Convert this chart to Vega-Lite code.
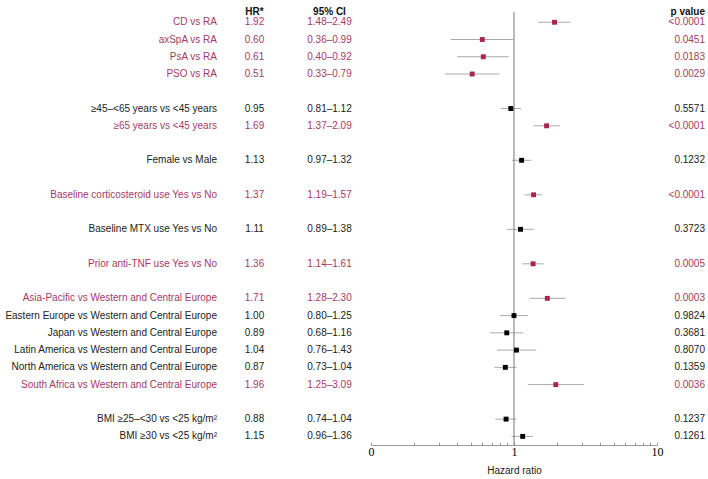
{
  "$schema": "https://vega.github.io/schema/vega-lite/v6.json",
  "padding": {"left": 5, "right": 5, "top": 5, "bottom": 0},
  "spacing": 4,
  "bounds": "flush",
  "config": {
    "view": {"stroke": null},
    "text": {"font": "Liberation Sans", "fontSize": 10},
    "concat": {"spacing": 4}
  },
  "datasets": {
    "rows": [
      {"row": 0, "label": "CD vs RA", "hr": 1.92, "lo": 1.48, "hi": 2.49, "ci": "1.48–2.49", "p": "<0.0001", "sig": "yes"},
      {"row": 1, "label": "axSpA vs RA", "hr": 0.60, "lo": 0.36, "hi": 0.99, "ci": "0.36–0.99", "p": "0.0451", "sig": "yes"},
      {"row": 2, "label": "PsA vs RA", "hr": 0.61, "lo": 0.40, "hi": 0.92, "ci": "0.40–0.92", "p": "0.0183", "sig": "yes"},
      {"row": 3, "label": "PSO vs RA", "hr": 0.51, "lo": 0.33, "hi": 0.79, "ci": "0.33–0.79", "p": "0.0029", "sig": "yes"},
      {"row": 5, "label": "≥45–<65 years vs <45 years", "hr": 0.95, "lo": 0.81, "hi": 1.12, "ci": "0.81–1.12", "p": "0.5571", "sig": "no"},
      {"row": 6, "label": "≥65 years vs <45 years", "hr": 1.69, "lo": 1.37, "hi": 2.09, "ci": "1.37–2.09", "p": "<0.0001", "sig": "yes"},
      {"row": 8, "label": "Female vs Male", "hr": 1.13, "lo": 0.97, "hi": 1.32, "ci": "0.97–1.32", "p": "0.1232", "sig": "no"},
      {"row": 10, "label": "Baseline corticosteroid use Yes vs No", "hr": 1.37, "lo": 1.19, "hi": 1.57, "ci": "1.19–1.57", "p": "<0.0001", "sig": "yes"},
      {"row": 12, "label": "Baseline MTX use Yes vs No", "hr": 1.11, "lo": 0.89, "hi": 1.38, "ci": "0.89–1.38", "p": "0.3723", "sig": "no"},
      {"row": 14, "label": "Prior anti-TNF use Yes vs No", "hr": 1.36, "lo": 1.14, "hi": 1.61, "ci": "1.14–1.61", "p": "0.0005", "sig": "yes"},
      {"row": 16, "label": "Asia-Pacific vs Western and Central Europe", "hr": 1.71, "lo": 1.28, "hi": 2.30, "ci": "1.28–2.30", "p": "0.0003", "sig": "yes"},
      {"row": 17, "label": "Eastern Europe vs Western and Central Europe", "hr": 1.00, "lo": 0.80, "hi": 1.25, "ci": "0.80–1.25", "p": "0.9824", "sig": "no"},
      {"row": 18, "label": "Japan vs Western and Central Europe", "hr": 0.89, "lo": 0.68, "hi": 1.16, "ci": "0.68–1.16", "p": "0.3681", "sig": "no"},
      {"row": 19, "label": "Latin America vs Western and Central Europe", "hr": 1.04, "lo": 0.76, "hi": 1.43, "ci": "0.76–1.43", "p": "0.8070", "sig": "no"},
      {"row": 20, "label": "North America vs Western and Central Europe", "hr": 0.87, "lo": 0.73, "hi": 1.04, "ci": "0.73–1.04", "p": "0.1359", "sig": "no"},
      {"row": 21, "label": "South Africa vs Western and Central Europe", "hr": 1.96, "lo": 1.25, "hi": 3.09, "ci": "1.25–3.09", "p": "0.0036", "sig": "yes"},
      {"row": 23, "label": "BMI ≥25–<30 vs <25 kg/m²", "hr": 0.88, "lo": 0.74, "hi": 1.04, "ci": "0.74–1.04", "p": "0.1237", "sig": "no"},
      {"row": 24, "label": "BMI ≥30 vs <25 kg/m²", "hr": 1.15, "lo": 0.96, "hi": 1.36, "ci": "0.96–1.36", "p": "0.1261", "sig": "no"}
    ]
  },
  "hconcat": [
    {
      "width": 210,
      "height": 440,
      "data": {"name": "rows"},
      "mark": {"type": "text", "align": "right", "baseline": "middle"},
      "encoding": {
        "x": {"value": "width"},
        "y": {"field": "row", "type": "quantitative", "scale": {"domain": [-1, 24.5], "reverse": true, "zero": false, "nice": false}, "axis": null},
        "text": {"field": "label"},
        "color": {"field": "sig", "type": "nominal", "scale": {"domain": ["yes", "no"], "range": ["#a53a64", "#222222"]}, "legend": null}
      }
    },
    {
      "width": 67,
      "height": 440,
      "layer": [
        {
          "data": {"name": "rows"},
          "mark": {"type": "text", "align": "center", "baseline": "middle"},
          "encoding": {
            "y": {"field": "row", "type": "quantitative", "scale": {"domain": [-1, 24.5], "reverse": true, "zero": false, "nice": false}, "axis": null},
            "text": {"field": "hr", "type": "quantitative", "format": ".2f"},
            "color": {"field": "sig", "type": "nominal", "scale": {"domain": ["yes", "no"], "range": ["#a53a64", "#222222"]}, "legend": null}
          }
        },
        {
          "data": {"values": [{"t": "HR*"}]},
          "mark": {"type": "text", "align": "center", "baseline": "middle", "fontWeight": "bold", "color": "#111111"},
          "encoding": {
            "y": {"datum": -0.62, "type": "quantitative"},
            "text": {"field": "t"}
          }
        }
      ]
    },
    {
      "width": 75,
      "height": 440,
      "layer": [
        {
          "data": {"name": "rows"},
          "mark": {"type": "text", "align": "center", "baseline": "middle"},
          "encoding": {
            "y": {"field": "row", "type": "quantitative", "scale": {"domain": [-1, 24.5], "reverse": true, "zero": false, "nice": false}, "axis": null},
            "text": {"field": "ci"},
            "color": {"field": "sig", "type": "nominal", "scale": {"domain": ["yes", "no"], "range": ["#a53a64", "#222222"]}, "legend": null}
          }
        },
        {
          "data": {"values": [{"t": "95% CI"}]},
          "mark": {"type": "text", "align": "center", "baseline": "middle", "fontWeight": "bold", "color": "#111111"},
          "encoding": {
            "y": {"datum": -0.62, "type": "quantitative"},
            "text": {"field": "t"}
          }
        }
      ]
    },
    {
      "width": 286,
      "height": 440,
      "layer": [
        {
          "data": {"name": "rows"},
          "mark": {"type": "rule", "color": "#aaaaaa", "strokeWidth": 1},
          "encoding": {
            "x": {
              "field": "lo", "type": "quantitative",
              "scale": {"type": "log", "domain": [0.1, 10], "nice": false},
              "axis": {
                "title": "Hazard ratio",
                "values": [0.1, 0.2, 0.3, 0.4, 0.5, 0.6, 0.7, 0.8, 0.9, 1, 2, 3, 4, 5, 6, 7, 8, 9, 10],
                "labelExpr": "datum.value < 0.15 ? '0' : (datum.value == 1 ? '1' : (datum.value == 10 ? '10' : ''))",
                "labelFlush": false,
                "labelOverlap": false,
                "grid": false,
                "domainColor": "#999999",
                "tickColor": "#999999",
                "tickSize": -3,
                "labelPadding": 4,
                "labelFont": "Liberation Serif",
                "labelFontSize": 12,
                "labelColor": "#000000",
                "titleFont": "Liberation Sans",
                "titleFontSize": 10,
                "titleFontWeight": "normal",
                "titleColor": "#222222",
                "titlePadding": 8
              }
            },
            "x2": {"field": "hi"},
            "y": {"field": "row", "type": "quantitative", "scale": {"domain": [-1, 24.5], "reverse": true, "zero": false, "nice": false}, "axis": null}
          }
        },
        {
          "data": {"values": [{}]},
          "mark": {"type": "rule", "color": "#777777", "strokeWidth": 1},
          "encoding": {
            "x": {"datum": 1},
            "y": {"datum": -0.6},
            "y2": {"datum": 24.5}
          }
        },
        {
          "data": {"name": "rows"},
          "mark": {"type": "square", "filled": true, "size": 24, "opacity": 1},
          "encoding": {
            "x": {"field": "hr", "type": "quantitative"},
            "y": {"field": "row", "type": "quantitative"},
            "color": {"field": "sig", "type": "nominal", "scale": {"domain": ["yes", "no"], "range": ["#a8254f", "#000000"]}, "legend": null}
          }
        }
      ],
      "resolve": {"scale": {"color": "independent"}}
    },
    {
      "width": 44,
      "height": 440,
      "layer": [
        {
          "data": {"name": "rows"},
          "mark": {"type": "text", "align": "right", "baseline": "middle"},
          "encoding": {
            "x": {"value": "width"},
            "y": {"field": "row", "type": "quantitative", "scale": {"domain": [-1, 24.5], "reverse": true, "zero": false, "nice": false}, "axis": null},
            "text": {"field": "p"},
            "color": {"field": "sig", "type": "nominal", "scale": {"domain": ["yes", "no"], "range": ["#a53a64", "#222222"]}, "legend": null}
          }
        },
        {
          "data": {"values": [{"t": "p value"}]},
          "mark": {"type": "text", "align": "right", "baseline": "middle", "fontWeight": "bold", "color": "#111111"},
          "encoding": {
            "x": {"value": "width"},
            "y": {"datum": -0.62, "type": "quantitative"},
            "text": {"field": "t"}
          }
        }
      ]
    }
  ],
  "resolve": {"scale": {"color": "independent"}}
}
